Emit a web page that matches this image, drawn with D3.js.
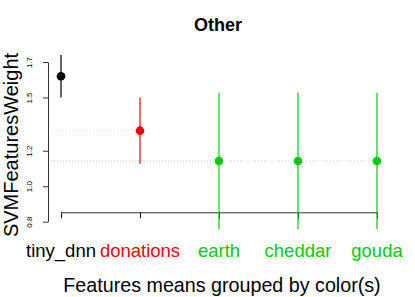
<!DOCTYPE html>
<html>
<head>
<meta charset="utf-8">
<script src="https://d3js.org/d3.v7.min.js"></script>
<style>
    body { margin: 0; background: #fff; }
    text { font-family: "Liberation Sans", Arial, sans-serif; }
</style>
</head>
<body>
<script>
(function(){

    //chart data
    var categories = ["tiny_dnn", "donations", "earth", "cheddar", "gouda"];
    var means = [1.62, 1.313, 1.142, 1.142, 1.142];
    var lower = [1.50, 1.125, 0.757, 0.757, 0.757];
    var upper = [1.74, 1.50, 1.527, 1.527, 1.527];
    var colors = ["#000000", "#FF0000", "#00CD00", "#00CD00", "#00CD00"];
    var yTicks = [0.8, 1.0, 1.2, 1.5, 1.7];
    var xAxisAt = 0.853; //y value where the category axis is drawn

    window.onload = setChart();

    function setChart(){
        var width = 415,
            height = 297;

        var svg = d3.select("body")
            .append("svg")
            .attr("width", width)
            .attr("height", height);

        //scales
        var yScale = d3.scaleLinear()
            .domain([0.8, 1.7])
            .range([221.7, 62]);

        var xScale = d3.scalePoint()
            .domain(categories)
            .range([61, 377]);

        var axisX = 48;

        //dotted guide lines from axis to each mean
        svg.selectAll(".guide")
            .data(categories)
            .enter()
            .append("line")
            .attr("class", "guide")
            .attr("x1", axisX)
            .attr("x2", function(d){ return xScale(d); })
            .attr("y1", function(d, i){ return yScale(means[i]); })
            .attr("y2", function(d, i){ return yScale(means[i]); })
            .style("stroke", "#dcdcdc")
            .style("stroke-width", 1)
            .style("stroke-dasharray", "1,2");

        //y axis
        var yAxis = d3.axisLeft(yScale)
            .tickValues(yTicks)
            .tickSize(5)
            .tickSizeOuter(0)
            .tickFormat(d3.format(".1f"));

        var yg = svg.append("g")
            .attr("transform", "translate(" + axisX + ",0)")
            .call(yAxis);

        yg.select(".domain").style("stroke", "#333");
        yg.selectAll(".tick line").style("stroke", "#333");
        yg.selectAll(".tick text")
            .attr("x", null)
            .attr("dy", null)
            .attr("text-anchor", "middle")
            .attr("transform", "translate(-16,0) rotate(-90)")
            .style("font-size", "8px")
            .style("fill", "#000");

        //category axis
        var xAxis = d3.axisBottom(xScale)
            .tickSize(6)
            .tickSizeOuter(0)
            .tickFormat("");

        var xg = svg.append("g")
            .attr("transform", "translate(0," + yScale(xAxisAt) + ")")
            .call(xAxis);
        xg.select(".domain").style("stroke", "#333");
        xg.selectAll(".tick line").style("stroke", "#111");

        //error bars
        svg.selectAll(".err")
            .data(categories)
            .enter()
            .append("line")
            .attr("class", "err")
            .attr("x1", function(d){ return xScale(d); })
            .attr("x2", function(d){ return xScale(d); })
            .attr("y1", function(d, i){ return yScale(lower[i]); })
            .attr("y2", function(d, i){ return yScale(upper[i]); })
            .style("stroke", function(d, i){ return colors[i]; })
            .style("stroke-width", 1.2);

        //mean points
        svg.selectAll(".pt")
            .data(categories)
            .enter()
            .append("circle")
            .attr("class", "pt")
            .attr("cx", function(d){ return xScale(d); })
            .attr("cy", function(d, i){ return yScale(means[i]); })
            .attr("r", 4.3)
            .style("fill", function(d, i){ return colors[i]; });

        //category labels
        svg.selectAll(".catLabel")
            .data(categories)
            .enter()
            .append("text")
            .attr("class", "catLabel")
            .attr("x", function(d){ return xScale(d); })
            .attr("y", 257)
            .attr("text-anchor", "middle")
            .style("font-size", "18.5px")
            .style("fill", function(d, i){ return colors[i]; })
            .text(function(d){ return d; });

        //title
        svg.append("text")
            .attr("x", 218)
            .attr("y", 30.5)
            .attr("text-anchor", "middle")
            .style("font-size", "18px")
            .style("font-weight", "bold")
            .text("Other");

        //axis titles
        svg.append("text")
            .attr("x", 222)
            .attr("y", 292)
            .attr("text-anchor", "middle")
            .style("font-size", "19.7px")
            .text("Features means grouped by color(s)");

        svg.append("text")
            .attr("transform", "translate(18,145) rotate(-90)")
            .attr("text-anchor", "middle")
            .style("font-size", "20px")
            .text("SVMFeaturesWeight");
    };
})();
</script>
</body>
</html>
